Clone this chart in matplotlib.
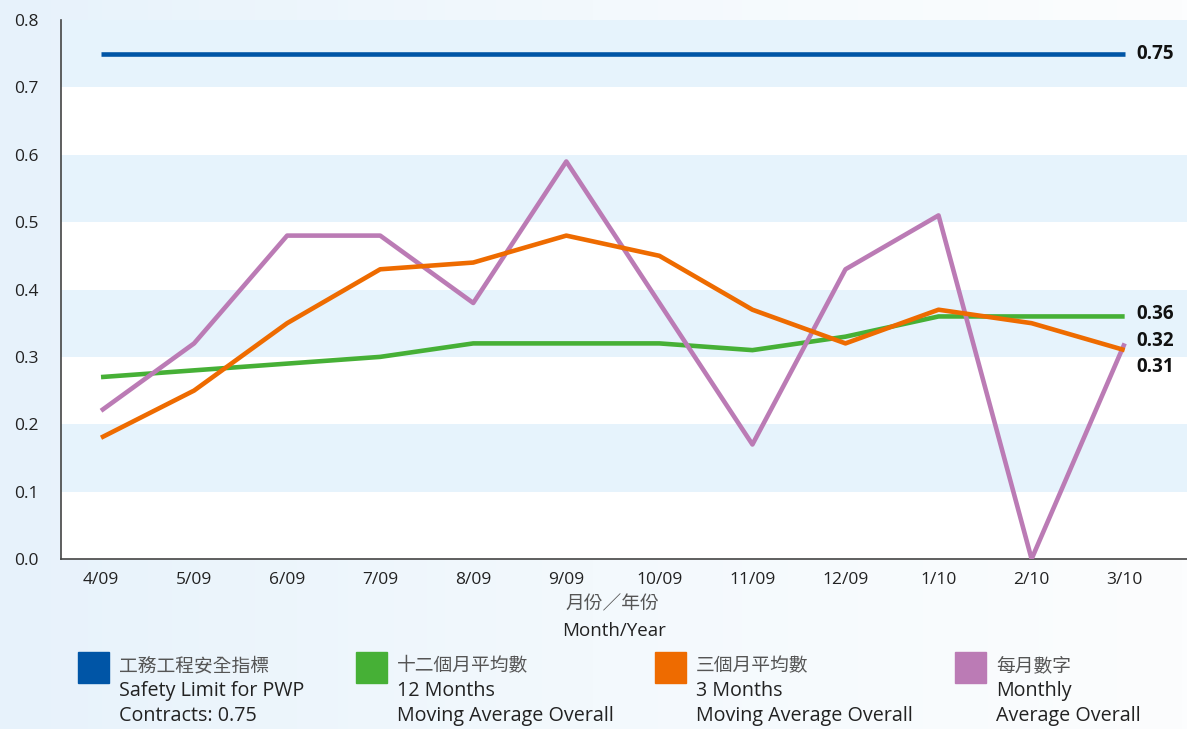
import numpy as np
import matplotlib
matplotlib.use("Agg")
import matplotlib.pyplot as plt
from matplotlib.patches import Rectangle
from matplotlib.colors import LinearSegmentedColormap

plt.rcParams['font.family'] = ['Open Sans', 'Noto Sans CJK TC', 'DejaVu Sans']

months = ['4/09', '5/09', '6/09', '7/09', '8/09', '9/09',
          '10/09', '11/09', '12/09', '1/10', '2/10', '3/10']
safety_limit = [0.75] * 12
avg_12m = [0.27, 0.28, 0.29, 0.30, 0.32, 0.32, 0.32, 0.31, 0.33, 0.36, 0.36, 0.36]
avg_3m = [0.18, 0.25, 0.35, 0.43, 0.44, 0.48, 0.45, 0.37, 0.32, 0.37, 0.35, 0.31]
monthly = [0.22, 0.32, 0.48, 0.48, 0.38, 0.59, 0.38, 0.17, 0.43, 0.51, 0.00, 0.32]

c_blue = '#0055a6'
c_green = '#46b036'
c_orange = '#ee6b00'
c_purple = '#bb7bb5'
band = '#e6f3fc'

W, H = 1187, 729
fig = plt.figure(figsize=(W / 100, H / 100), dpi=100)

# soft blue-to-white background
bg = fig.add_axes([0, 0, 1, 1], zorder=-10)
grad = np.linspace(0, 1, 256).reshape(1, -1)
cmap = LinearSegmentedColormap.from_list('bg', ['#e7f2fb', '#f3f9fd', '#fcfdfe'])
bg.imshow(grad, aspect='auto', cmap=cmap, extent=[0, 1, 0, 1])
bg.axis('off')

ax = fig.add_axes([61 / W, (H - 559) / H, 1 - 61 / W, (559 - 20) / H])
ax.set_facecolor('white')
x = np.arange(len(months))
ax.set_xlim(-0.43, 11.67)
ax.set_ylim(0, 0.8)

for lo in [0.1, 0.3, 0.5, 0.7]:
    ax.axhspan(lo, lo + 0.1, color=band, lw=0, zorder=0)

lw = 3.3
ax.plot(x, safety_limit, color=c_blue, lw=lw, solid_capstyle='butt', zorder=3)
ax.plot(x, avg_12m, color=c_green, lw=lw, solid_capstyle='butt', zorder=3)
ax.plot(x, monthly, color=c_purple, lw=lw, solid_capstyle='butt', zorder=3)
ax.plot(x, avg_3m, color=c_orange, lw=lw, solid_capstyle='butt', zorder=4)

# end values
lab = dict(fontsize=13.5, fontweight='bold', color='#111111', va='center', ha='left')
ax.text(x[-1] + 0.13, safety_limit[-1], f'{safety_limit[-1]:.2f}', **lab)
ax.annotate(f'{avg_12m[-1]:.2f}', (x[-1], avg_12m[-1]), xytext=(8.5, 1.5),
            textcoords='offset points', **lab)
ax.annotate(f'{monthly[-1]:.2f}', (x[-1], monthly[-1]), xytext=(8.5, 1.5),
            textcoords='offset points', **lab)
ax.annotate(f'{avg_3m[-1]:.2f}', (x[-1], avg_3m[-1]), xytext=(8.5, -12),
            textcoords='offset points', **lab)

ax.set_xticks(x)
ax.set_xticklabels(months)
ax.set_yticks(np.arange(0, 0.81, 0.1))
ax.set_yticklabels([f'{v:.1f}' for v in np.arange(0, 0.81, 0.1)])
ax.tick_params(axis='both', length=0, labelsize=12.5, colors='#222222')
ax.tick_params(axis='y', pad=16)
ax.tick_params(axis='x', pad=9)
for s in ['top', 'right']:
    ax.spines[s].set_visible(False)
for s in ['left', 'bottom']:
    ax.spines[s].set_color('#444444')
    ax.spines[s].set_linewidth(1.2)

fig.text(612 / W, 1 - 604 / H, '月份／年份', ha='center', va='center',
         fontsize=13.5, color='#555555')
fig.text(614 / W, 1 - 631 / H, 'Month/Year', ha='center', va='center',
         fontsize=13.5, color='#222222')

legend_items = [
    (c_blue, 78, '工務工程安全指標', 'Safety Limit for PWP', 'Contracts: 0.75'),
    (c_green, 356, '十二個月平均數', '12 Months', 'Moving Average Overall'),
    (c_orange, 655, '三個月平均數', '3 Months', 'Moving Average Overall'),
    (c_purple, 955, '每月數字', 'Monthly', 'Average Overall'),
]
for col, px, zh, en1, en2 in legend_items:
    fig.patches.append(Rectangle((px / W, 1 - 683 / H), 31 / W, 31 / H,
                                 transform=fig.transFigure, color=col))
    tx = (px + 41) / W
    fig.text(tx, 1 - 666 / H, zh, ha='left', va='center', fontsize=13.5, color='#555555')
    fig.text(tx, 1 - 691 / H, en1, ha='left', va='center', fontsize=14.2, color='#222222')
    fig.text(tx, 1 - 716 / H, en2, ha='left', va='center', fontsize=14.2, color='#222222')

fig.savefig('out.png', dpi=100)
